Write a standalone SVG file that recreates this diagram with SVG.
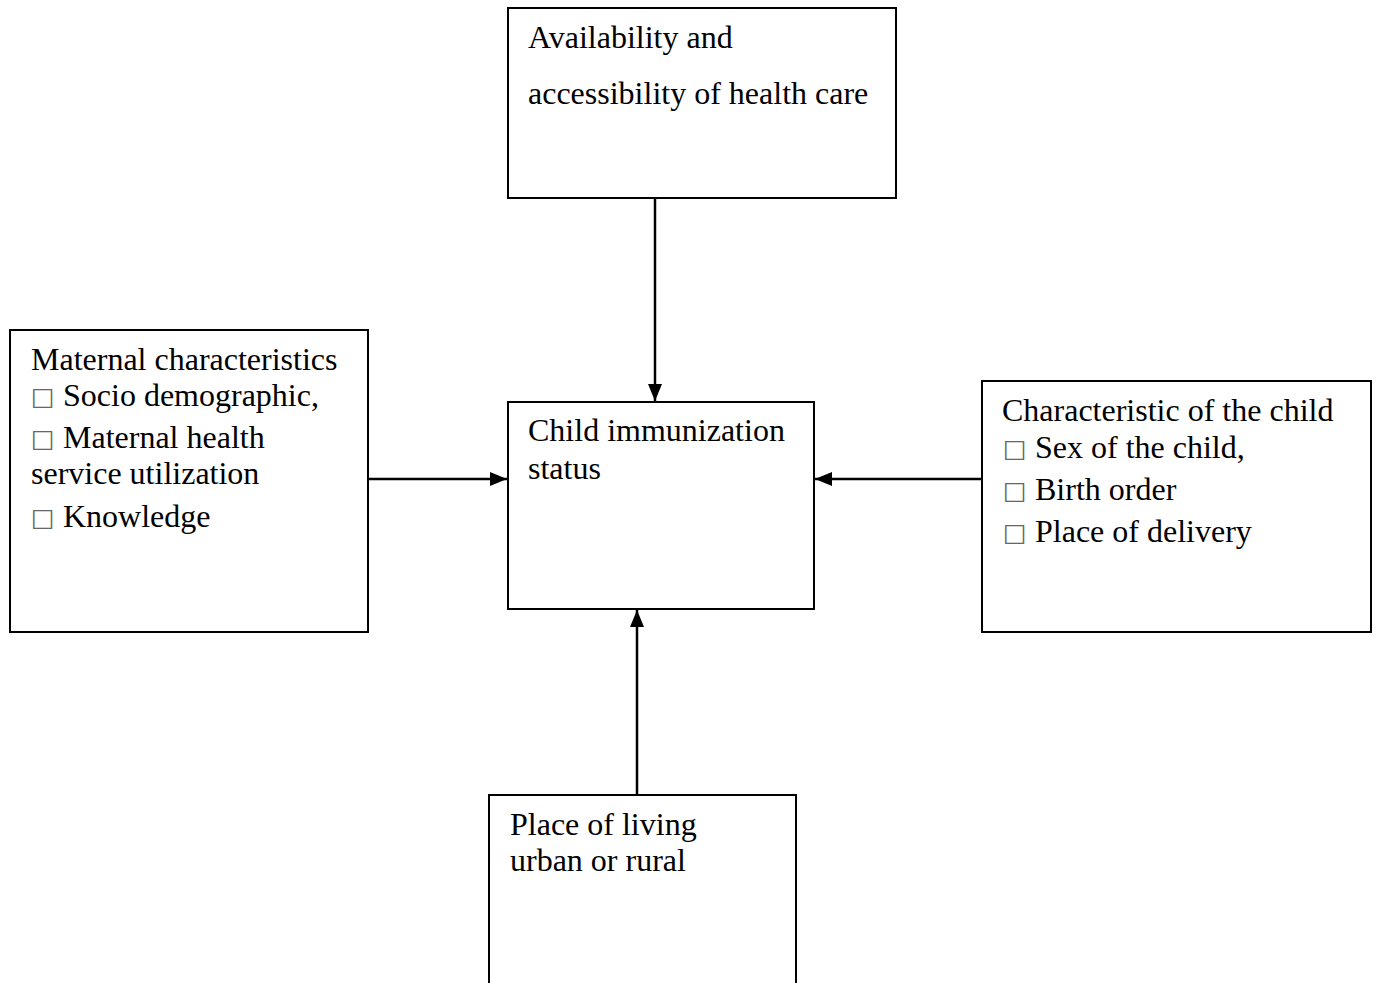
<svg xmlns="http://www.w3.org/2000/svg" width="1379" height="983" viewBox="0 0 1379 983">
<style>
.box{fill:#fff;stroke:#000;stroke-width:2}
.t{font-family:'Liberation Serif', serif;font-size:32px;fill:#000}
.b{font-family:'DejaVu Sans', sans-serif;font-size:25px;fill:#666}
.c{stroke:#000;stroke-width:2.5;fill:none}
</style>
<defs>
<marker id="ah" markerWidth="18" markerHeight="16" refX="17" refY="8" orient="auto" markerUnits="userSpaceOnUse">
<path d="M0,1 L17,8 L0,15 Z" fill="#000"/>
</marker>
</defs>
<rect width="1379" height="983" fill="#fff"/>
<g id="connectors">
<line class="c" x1="655" y1="198" x2="655" y2="401" marker-end="url(#ah)"/>
<line class="c" x1="368" y1="479" x2="507" y2="479" marker-end="url(#ah)"/>
<line class="c" x1="982" y1="479" x2="815" y2="479" marker-end="url(#ah)"/>
<line class="c" x1="637" y1="795" x2="637" y2="610" marker-end="url(#ah)"/>
</g>
<g id="top">
<rect class="box" x="508" y="8" width="388" height="190"/>
<text class="t" x="528" y="48">Availability and</text>
<text class="t" x="528" y="104">accessibility of health care</text>
</g>
<g id="center">
<rect class="box" x="508" y="402" width="306" height="207"/>
<text class="t" x="528" y="441">Child immunization</text>
<text class="t" x="528" y="479">status</text>
</g>
<g id="left">
<rect class="box" x="10" y="330" width="358" height="302"/>
<text class="t" x="31" y="370">Maternal characteristics</text>
<text class="b" x="31" y="405">□</text><text class="t" x="63" y="406">Socio demographic,</text>
<text class="b" x="31" y="447">□</text><text class="t" x="63" y="448">Maternal health</text>
<text class="t" x="31" y="484">service utilization</text>
<text class="b" x="31" y="526">□</text><text class="t" x="63" y="527">Knowledge</text>
</g>
<g id="right">
<rect class="box" x="982" y="381" width="389" height="251"/>
<text class="t" x="1002" y="421">Characteristic of the child</text>
<text class="b" x="1003" y="457">□</text><text class="t" x="1035" y="458">Sex of the child,</text>
<text class="b" x="1003" y="499">□</text><text class="t" x="1035" y="500">Birth order</text>
<text class="b" x="1003" y="541">□</text><text class="t" x="1035" y="542">Place of delivery</text>
</g>
<g id="bottom">
<rect class="box" x="489" y="795" width="307" height="200"/>
<text class="t" x="510" y="835">Place of living</text>
<text class="t" x="510" y="871">urban or rural</text>
</g>
</svg>
